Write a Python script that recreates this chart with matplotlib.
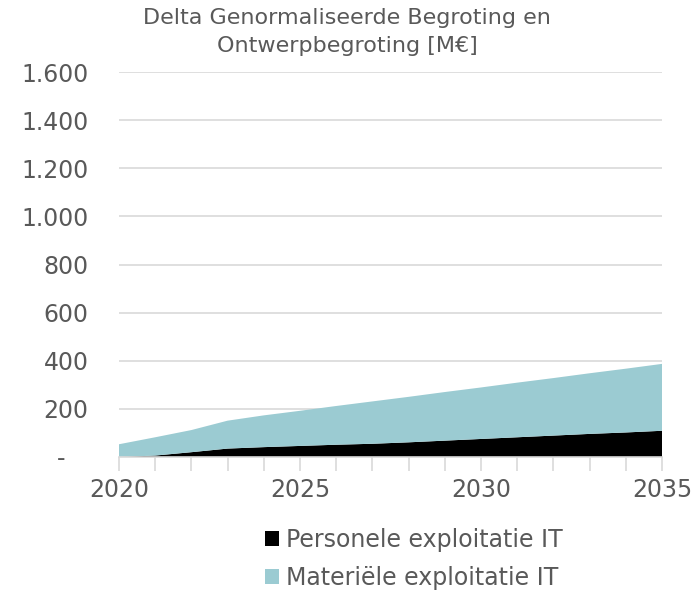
import matplotlib.pyplot as plt
import numpy as np
from matplotlib.patches import Patch
from matplotlib.ticker import FixedLocator, FuncFormatter

years = np.arange(2020, 2036)
personele = [0, 6, 20, 35, 41, 46, 51, 55, 61, 68, 75, 82, 89, 96, 102, 109]
totaal = [53, 82, 112, 151, 173, 192, 212, 231, 250, 270, 289, 309, 328, 348, 367, 387]
materiele = [t - p for t, p in zip(totaal, personele)]

series_labels = ["Personele exploitatie IT", "Materiële exploitatie IT"]
colors = ["#000000", "#9bcbd2"]
text_color = "#595959"
grid_color = "#d9d9d9"


def fmt_nl(v, _pos):
    # Excel accounting style: zero shown as a dash
    if v == 0:
        return "-   "
    return f"{int(v):,}".replace(",", ".")


fig = plt.figure(figsize=(6.94, 5.90), dpi=100)
ax = fig.add_axes([119 / 694, 1 - 457 / 590, (662 - 119) / 694, (457 - 72) / 590])

ax.stackplot(years, personele, materiele, colors=colors, linewidth=0)

ax.set_xlim(2020, 2035)
ax.set_ylim(0, 1600)
ax.set_yticks(np.arange(0, 1601, 200))
ax.yaxis.set_major_formatter(FuncFormatter(fmt_nl))
ax.set_xticks([2020, 2025, 2030, 2035])
ax.xaxis.set_minor_locator(FixedLocator(years))

ax.grid(axis="y", color=grid_color, linewidth=1.2)
ax.set_axisbelow(True)
for side in ["top", "right", "left"]:
    ax.spines[side].set_visible(False)
ax.spines["bottom"].set_color(grid_color)
ax.spines["bottom"].set_linewidth(1.2)

ax.tick_params(axis="y", length=0, pad=22, labelsize=17, labelcolor=text_color)
ax.tick_params(axis="x", which="both", direction="out", length=10, width=1.2,
               color=grid_color, labelsize=17, labelcolor=text_color, pad=5)

fig.text(0.5, 1 - 32 / 590, "Delta Genormaliseerde Begroting en\nOntwerpbegroting [M€]",
         ha="center", va="center", fontsize=16, color=text_color, linespacing=1.55)

handles = [Patch(facecolor=c, edgecolor="none") for c in colors]
fig.legend(handles, series_labels, loc="center", bbox_to_anchor=(414 / 694, 1 - 559 / 590),
           frameon=False, fontsize=17, labelcolor=text_color, handlelength=0.6,
           handleheight=0.6, handletextpad=0.3, labelspacing=0.6, borderpad=0)

fig.savefig("out.png", dpi=100)
